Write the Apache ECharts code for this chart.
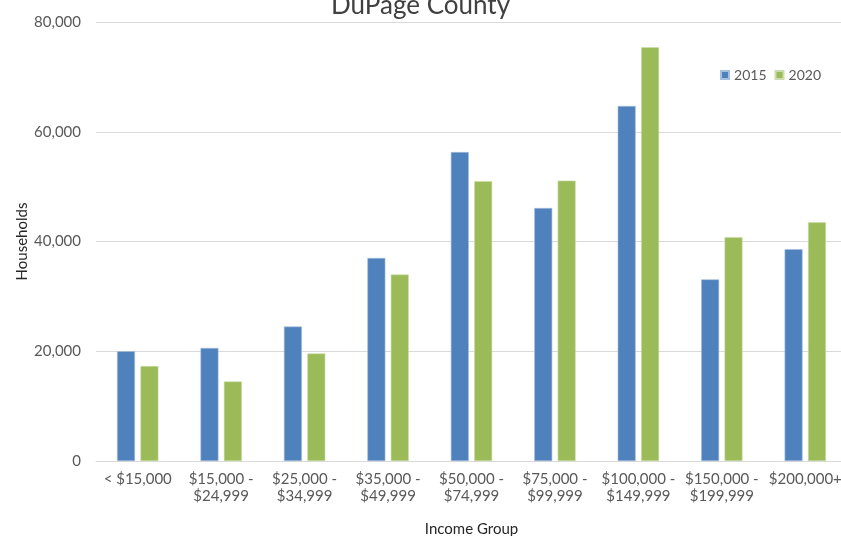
<!DOCTYPE html>
<html>
<head>
<meta charset="utf-8">
<script src="https://cdn.jsdelivr.net/npm/echarts@6/dist/echarts.min.js"></script>
<style>
  html, body { margin: 0; padding: 0; background: #fff; }
  #chart { width: 841px; height: 536px; }
</style>
</head>
<body>
<div id="chart"></div>
<script>
// Household counts by income group, DuPage County
const incomeGroups = [
  '< $15,000', '$15,000 -\n$24,999', '$25,000 -\n$34,999', '$35,000 -\n$49,999',
  '$50,000 -\n$74,999', '$75,000 -\n$99,999', '$100,000 -\n$149,999',
  '$150,000 -\n$199,999', '$200,000+'
];
const households2015 = [20000, 20600, 24500, 37000, 56300, 46100, 64700, 33100, 38600];
const households2020 = [17300, 14500, 19600, 34000, 51000, 51100, 75400, 40800, 43500];
const yTicks = { min: 0, max: 80000, interval: 20000 };

const FONT = 'Lato, "Open Sans", sans-serif';
const chart = echarts.init(document.getElementById('chart'), null, { renderer: 'canvas' });

chart.setOption({
  animation: false,
  textStyle: { fontFamily: FONT },
  title: {
    text: 'DuPage County',
    left: 'center',
    top: -12,
    textStyle: { fontFamily: FONT, fontSize: 26, fontWeight: 'normal', color: '#404040' }
  },
  legend: {
    orient: 'horizontal',
    right: 18,
    top: 66,
    padding: 2,
    itemWidth: 8,
    itemHeight: 8,
    itemGap: 8,
    icon: 'rect',
    textStyle: { fontFamily: FONT, fontSize: 14, color: '#595959' },
    data: ['2015', '2020']
  },
  grid: {
    left: 96, top: 22, width: 751, height: 439,
    containLabel: false,
    outerBoundsMode: 'none'
  },
  xAxis: {
    type: 'category',
    data: incomeGroups,
    name: 'Income Group',
    nameLocation: 'middle',
    nameGap: 61,
    nameMoveOverlap: false,
    nameTextStyle: { fontFamily: FONT, fontSize: 15, color: '#262626' },
    axisLine: { lineStyle: { color: '#d9d9d9', width: 1 } },
    axisTick: { show: false },
    axisLabel: {
      interval: 0,
      margin: 10,
      fontFamily: FONT,
      fontSize: 15,
      lineHeight: 17,
      color: '#595959'
    }
  },
  yAxis: {
    type: 'value',
    min: yTicks.min,
    max: yTicks.max,
    interval: yTicks.interval,
    name: 'Households',
    nameLocation: 'middle',
    nameGap: 66,
    nameMoveOverlap: false,
    nameRotate: 90,
    nameTextStyle: { fontFamily: FONT, fontSize: 15, color: '#262626' },
    axisLine: { show: false },
    axisTick: { show: false },
    splitLine: { lineStyle: { color: '#d9d9d9', width: 1 } },
    axisLabel: {
      margin: 15,
      fontFamily: FONT,
      fontSize: 15,
      color: '#595959',
      formatter: v => v.toLocaleString('en-US')
    }
  },
  series: [
    {
      name: '2015',
      type: 'bar',
      data: households2015,
      barWidth: 18,
      barGap: '30%',
      itemStyle: { color: '#4f81bd', borderColor: '#a7c0de', borderWidth: 0.6 }
    },
    {
      name: '2020',
      type: 'bar',
      data: households2020,
      barWidth: 18,
      barGap: '30%',
      itemStyle: { color: '#9bbb59', borderColor: '#cddcac', borderWidth: 0.6 }
    }
  ]
});
</script>
</body>
</html>
